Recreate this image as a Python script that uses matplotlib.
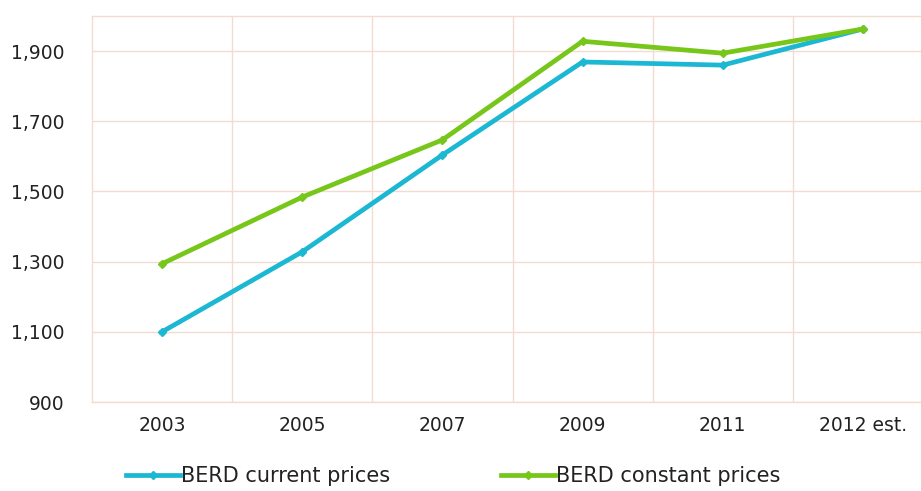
import matplotlib.pyplot as plt

years = ['2003', '2005', '2007', '2009', '2011', '2012 est.']
current_prices = [1100, 1328, 1604, 1869, 1860, 1963]
constant_prices = [1294, 1484, 1647, 1928, 1894, 1963]

grid_col = '#f3dccf'

fig = plt.figure(figsize=(9.21, 4.91), dpi=100)
ax = fig.add_axes([92 / 921, 89 / 491, 841 / 921, 386 / 491])

x = list(range(len(years)))
ax.plot(x, current_prices, color='#1bb7d3', lw=3.4, marker='D', ms=4,
        label='BERD current prices', zorder=3)
ax.plot(x, constant_prices, color='#77c61a', lw=3.4, marker='D', ms=4,
        label='BERD constant prices', zorder=4)

ax.set_xlim(-0.5, len(years) - 0.5)
ax.set_ylim(900, 2000)
ax.set_yticks(range(900, 2000, 200))
ax.set_yticklabels(['{:,}'.format(v) for v in range(900, 2000, 200)])
ax.set_xticks(x)
ax.set_xticklabels(years)

# category boundaries as vertical grid lines
ax.set_xticks([i + 0.5 for i in x], minor=True)
ax.grid(True, which='minor', axis='x', color=grid_col, lw=1)
ax.grid(True, which='major', axis='y', color=grid_col, lw=1)
ax.tick_params(which='both', length=0)
ax.tick_params(axis='y', pad=20, labelsize=13.5, labelcolor='#222222')
ax.tick_params(axis='x', pad=10, labelsize=13.5, labelcolor='#222222')
for s in ax.spines.values():
    s.set_color(grid_col)
    s.set_linewidth(1)
ax.spines['right'].set_visible(False)

fig.legend(loc='center', bbox_to_anchor=(0.492, 0.03), ncol=2, frameon=False,
           fontsize=15, handlelength=2.6, handletextpad=0.05, columnspacing=5.3,
           labelcolor='#222222')

fig.savefig('out.png', dpi=100)
